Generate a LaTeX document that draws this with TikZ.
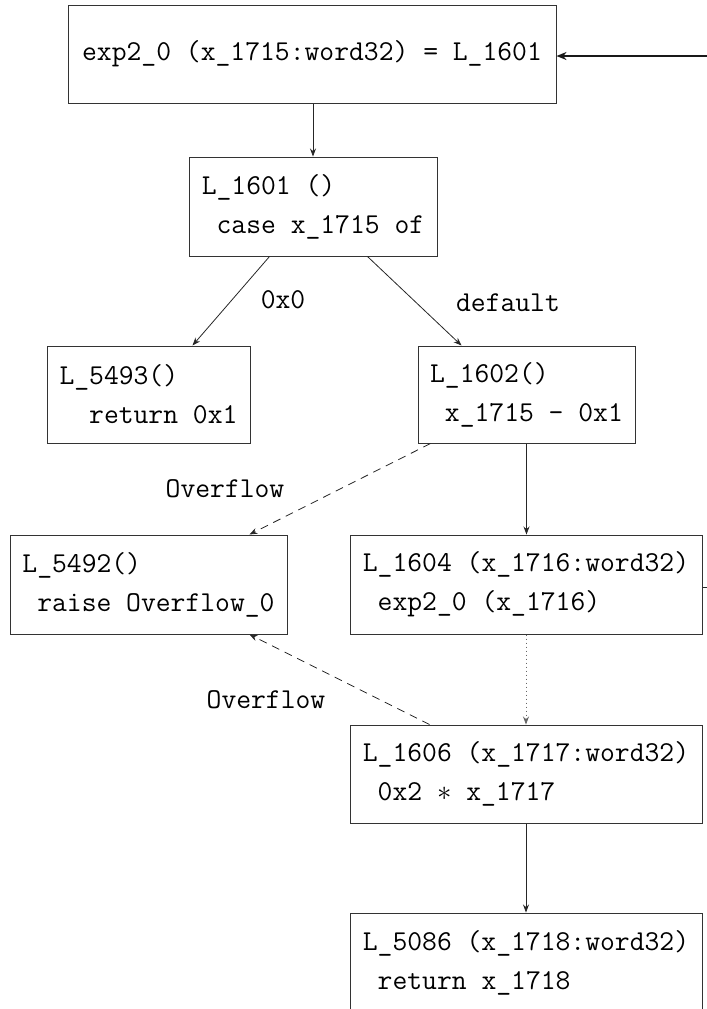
\documentclass[tikz,border=0pt]{standalone}
\usepackage{fontspec}
\setmonofont{Latin Modern Mono}
\usetikzlibrary{arrows.meta,calc}
\newcommand{\tind}{\hphantom{x}}
\begin{document}
\begin{tikzpicture}[x=0.5pt,y=-0.5pt,
  box/.style={draw=black!80,line width=0.5pt,rectangle,align=left,inner sep=0pt,
    font=\fontsize{14.4}{19.5}\selectfont\ttfamily},
  lbl/.style={font=\fontsize{14.4}{19.5}\selectfont\ttfamily,inner sep=0pt},
  edge/.style={draw=black!85,line width=0.4pt,-{Stealth[length=4pt,width=3pt]}},
]
\useasboundingbox (0,0) rectangle (707,1009);
\clip (0,0) rectangle (707,1009);

\node[box,minimum width=244pt,minimum height=49pt] (top) at (312,54)
  {exp2\_0 (x\_1715:word32) = L\_1601};
\node[box,minimum width=124pt,minimum height=49.5pt] (n1601) at (313,206.5)
  {L\_1601 ()\\\tind case x\_1715 of};
\node[box,minimum width=101.5pt,minimum height=48.5pt] (n5493) at (148.5,394.5)
  {L\_5493()\\\tind\tind return 0x1};
\node[box,minimum width=108.5pt,minimum height=48.5pt] (n1602) at (526.5,394.5)
  {L\_1602()\\\tind x\_1715 - 0x1};
\node[box,minimum width=138.5pt,minimum height=49.5pt] (n5492) at (148.5,584.5)
  {L\_5492()\\\tind raise Overflow\_0};
\node[box,minimum width=176pt,minimum height=49.5pt] (n1604) at (526,584.5)
  {L\_1604 (x\_1716:word32)\\\tind exp2\_0 (x\_1716)};
\node[box,minimum width=176pt,minimum height=49pt] (n1606) at (526,774)
  {L\_1606 (x\_1717:word32)\\\tind 0x2 $*$ x\_1717};
\node[box,minimum width=176pt,minimum height=49.5pt] (n5086) at (526,962.5)
  {L\_5086 (x\_1718:word32)\\\tind return x\_1718};

\node[lbl] (l0) at (283,300) {0x0};
\node[lbl] (ldef) at (508,303) {default};
\node[lbl] (lov1) at (225,489) {Overflow};
\node[lbl] (lov2) at (266,700) {Overflow};

\coordinate (in) at (707,56);
\coordinate (out) at (707,587);

\draw[draw=black!90,line width=1pt,-{Stealth[length=5pt,width=4pt]}] (in) -- (top.east |- in);
\draw[draw=black!85,line width=0.4pt] (n1604.east |- out) -- (out);

\draw[edge] (top.south -| n1601.north) -- (n1601.north);
\draw[edge] ($(n1601.south west)+(81,0)$) -- ($(n5493.north west)+(146,0)$);
\draw[edge] ($(n1601.south west)+(179,0)$) -- ($(n1602.north west)+(44,0)$);
\draw[edge,dash pattern=on 4pt off 3pt] ($(n1602.south west)+(13,0)$) -- ($(n5492.north west)+(240,0)$);
\draw[edge] (n1602.south) -- (n1602.south |- n1604.north);
\draw[edge,draw=black!60,dash pattern=on 0.6pt off 1.4pt] (n1604.south) -- (n1606.north);
\draw[edge,dash pattern=on 4pt off 3pt] ($(n1606.north west)+(80,0)$) -- ($(n5492.south west)+(240,0)$);
\draw[edge] (n1606.south) -- (n5086.north);
\end{tikzpicture}
\end{document}
